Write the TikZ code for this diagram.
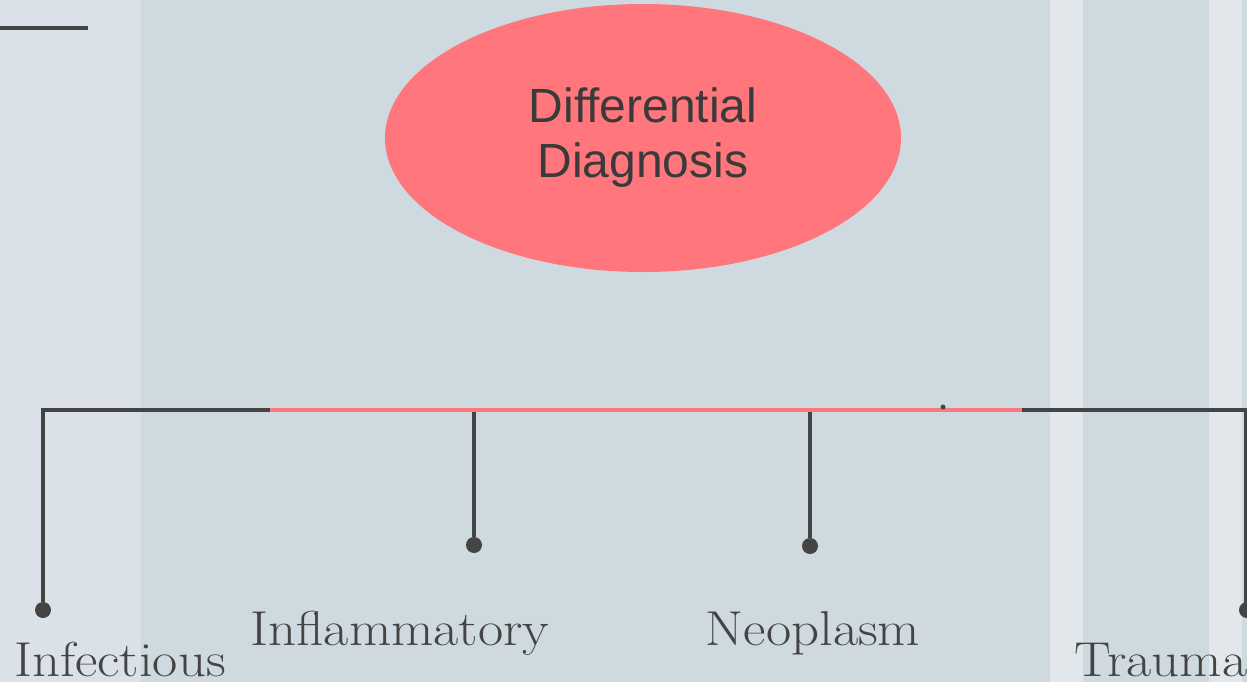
\documentclass[tikz,border=0pt]{standalone}
\usepackage{fontspec}
\newfontfamily\headfont{Liberation Sans}
\newfontfamily\catfont{Latin Modern Roman}[FakeStretch=1.12]
\usetikzlibrary{shapes.geometric, positioning}

\definecolor{bgLeft}{HTML}{DAE1E8}
\definecolor{bgMid}{HTML}{CFDAE0}
\definecolor{bgStripe}{HTML}{E1E7EB}
\definecolor{ddPink}{HTML}{FF767C}
\definecolor{lineDark}{HTML}{444444}
\definecolor{textDark}{HTML}{3A3A3A}

\begin{document}
\begin{tikzpicture}[x=1pt,y=-1pt,
                    main node/.style={ellipse,fill=ddPink,text=textDark,inner sep=0pt,
                                      minimum width=516pt,minimum height=268pt,align=center,
                                      font=\headfont\fontsize{48}{55}\selectfont},
                    end dot/.style={circle,fill=lineDark,inner sep=0pt,minimum size=16pt},
                    cat label/.style={anchor=base,text=lineDark,inner sep=0pt,
                                      font=\catfont\fontsize{49}{49}\selectfont},
                    bus/.style={draw=lineDark,line width=4pt},
                    pink bus/.style={draw=ddPink,line width=4.5pt}]

  % background panels
  \useasboundingbox (0,0) rectangle (1247,682);
  \fill[bgLeft]   (0,0)    rectangle (141,682);
  \fill[bgMid]    (141,0)  rectangle (1050,682);
  \fill[bgStripe] (1050,0) rectangle (1083,682);
  \fill[bgMid]    (1083,0) rectangle (1209,682);
  \fill[bgStripe] (1209,0) rectangle (1242,682);
  \fill[bgMid]    (1242,0) rectangle (1247,682);

  \draw[lineDark,line width=4pt] (0,28) -- (88,28);

  \node[main node] (dd) at (643,138) {Differential\\Diagnosis};

  % ends of the branches
  \node[end dot] (infdot)   at (43,610)  {};
  \node[end dot] (inflmdot) at (474,545) {};
  \node[end dot] (neodot)   at (810,546) {};
  \node[end dot] (traudot)  at (1247,610) {};

  \coordinate (busL)   at (43,410);
  \coordinate (busR)   at (1245.5,410);
  \coordinate (busB)   at (474,410);
  \coordinate (busC)   at (810,410);
  \coordinate (pinkL)  at (270,410);
  \coordinate (pinkR)  at (1022,410);

  \path[bus] (infdot) -- (busL) -- (busR) -- (busR |- traudot);
  \path[bus] (busB) -- (inflmdot);
  \path[bus] (busC) -- (neodot);
  \path[pink bus] (pinkL) -- (pinkR);

  \node[circle,fill=lineDark,inner sep=0pt,minimum size=5pt] (speck) at (943,407) {};

  \node[cat label] (infectious)   at (120,676) {Infectious};
  \node[cat label] (inflammatory) at (400,645) {Inflammatory};
  \node[cat label] (neoplasm)     at (813,645) {Neoplasm};
  \node[cat label] (trauma)       at (1161,676) {Trauma};

\end{tikzpicture}
\end{document}
